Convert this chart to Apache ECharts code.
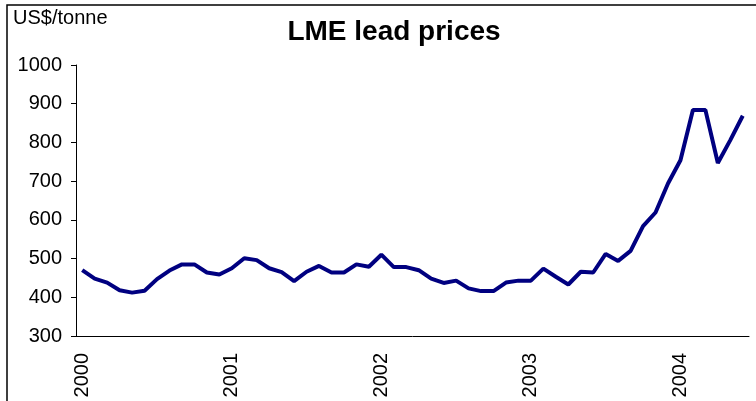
<!DOCTYPE html>
<html>
<head>
<meta charset="utf-8">
<script src="https://cdn.jsdelivr.net/npm/echarts@6/dist/echarts.min.js"></script>
<style>
  html, body { margin: 0; padding: 0; background: #fff; }
  #chart { width: 756px; height: 401px; }
</style>
</head>
<body>
<div id="chart"></div>
<script>
// monthly LME lead prices, Jan 2000 - Jun 2004
const years = ['2000', '2001', '2002', '2003', '2004'];
const monthsPerYear = [12, 12, 12, 12, 6];
const prices = [
  470, 448, 438, 418, 412, 417, 447, 469, 485, 485, 464, 459,
  475, 501, 496, 475, 465, 442, 466, 481, 464, 464, 485, 479,
  510, 478, 478, 470, 448, 437, 443, 423, 416, 416, 438, 443,
  443, 474, 453, 433, 466, 464, 512, 494, 520, 584, 619, 694,
  754, 884, 884, 747, 806, 869
];
const yTicks = { min: 300, max: 1000, step: 100 };

// category per month, labelled with year only on January
const months = [];
years.forEach((y, i) => {
  for (let m = 1; m <= monthsPerYear[i]; m++) {
    months.push(y + '-' + String(m).padStart(2, '0'));
  }
});

const chart = echarts.init(document.getElementById('chart'));
const font = 'Liberation Sans, Arial, sans-serif';

chart.setOption({
  backgroundColor: '#fff',
  animation: false,
  title: {
    text: 'LME lead prices',
    left: 389,
    top: 13,
    textAlign: 'center',
    textStyle: { fontFamily: font, fontSize: 28, fontWeight: 'bold', color: '#000' }
  },
  graphic: [
    {
      type: 'rect',
      shape: { x: 7, y: 5, width: 800, height: 420 },
      style: { fill: 'none', stroke: '#000', lineWidth: 1.5 }
    },
    {
      type: 'text',
      left: 13,
      top: 8,
      style: { text: 'US$/tonne', fontFamily: font, fontSize: 20, fill: '#000' }
    }
  ],
  grid: { left: 76, right: 7, top: 65, bottom: 65, containLabel: false },
  xAxis: {
    type: 'category',
    data: months,
    boundaryGap: true,
    axisLine: { lineStyle: { color: '#000', width: 1 } },
    axisTick: { interval: 0, length: 5, lineStyle: { color: '#000' } },
    axisLabel: {
      interval: (idx) => idx % 12 === 0,
      rotate: 90,
      margin: 17,
      fontFamily: font,
      fontSize: 20,
      color: '#000',
      formatter: (v) => v.slice(0, 4)
    },
    splitLine: { show: false }
  },
  yAxis: {
    type: 'value',
    min: yTicks.min,
    max: yTicks.max,
    interval: yTicks.step,
    axisLine: { show: true, lineStyle: { color: '#000', width: 1 } },
    axisTick: { show: true, length: 5, lineStyle: { color: '#000' } },
    axisLabel: {
      margin: 14,
      fontFamily: font,
      fontSize: 20,
      color: '#000',
      formatter: (v) => String(v)
    },
    splitLine: { show: false }
  },
  series: [{
    type: 'line',
    data: prices,
    symbol: 'none',
    lineStyle: { color: '#000080', width: 4 }
  }]
});
</script>
</body>
</html>
